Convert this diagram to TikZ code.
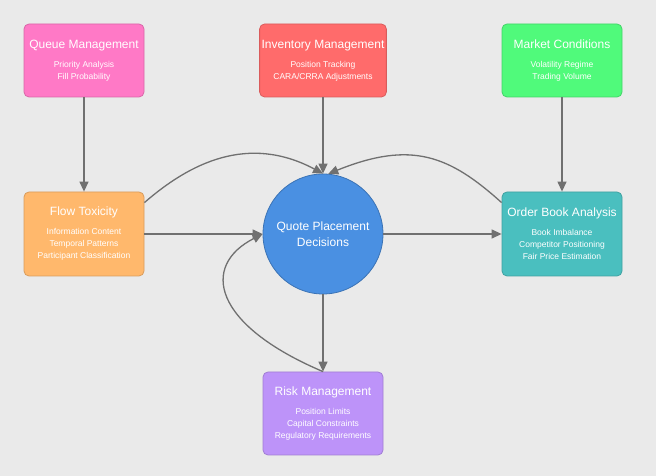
\documentclass[tikz,border=0pt]{standalone}
\usepackage{fontspec}
\setmainfont{Liberation Sans}
\usepackage{xcolor}
\usepackage{tikz}
\usetikzlibrary{arrows.meta}

\definecolor{bgcol}{HTML}{EAEAEA}
\definecolor{linkcol}{HTML}{707070}
\definecolor{queuecol}{HTML}{FF79C6}
\definecolor{invcol}{HTML}{FF6B6B}
\definecolor{marketcol}{HTML}{50FA7B}
\definecolor{flowcol}{HTML}{FFB86C}
\definecolor{quotecol}{HTML}{4A90E2}
\definecolor{bookcol}{HTML}{4ABFBF}
\definecolor{riskcol}{HTML}{BD93F9}

\newcommand{\boxtitle}[1]{{\fontsize{12}{14}\selectfont #1}\\[7pt]}

\begin{document}
\begin{tikzpicture}[x=1pt,y=1pt,
		box/.style={rectangle, rounded corners=5pt, minimum width=120pt, text=white, align=center,
			font=\fontsize{8.5}{12}\selectfont, line width=0.8pt, inner sep=2pt},
		link/.style={draw=linkcol, line width=1.3pt, -{Triangle[length=10pt,width=9pt]}}]
		\fill[bgcol] (0,0) rectangle (656,476);
		\useasboundingbox (0,0) rectangle (656,476);
		
		% top row
		\node[box, minimum height=73pt, fill=queuecol, draw=queuecol!85!black] (queue) at (84,415.5)
			{\boxtitle{Queue Management}Priority Analysis\\Fill Probability};
		\node[box, minimum height=73pt, fill=invcol, draw=invcol!85!black] (inv) at (323,415.5)
			{\boxtitle{Inventory Management}Position Tracking\\CARA/CRRA Adjustments};
		\node[box, minimum height=73pt, fill=marketcol, draw=marketcol!85!black] (market) at (562,415.5)
			{\boxtitle{Market Conditions}Volatility Regime\\Trading Volume};
		
		% middle row
		\node[box, minimum height=84pt, fill=flowcol, draw=flowcol!85!black] (flow) at (84,242)
			{\boxtitle{Flow Toxicity}Information Content\\Temporal Patterns\\Participant Classification};
		\node[circle, minimum size=120pt, fill=quotecol, draw=quotecol!80!black, line width=0.8pt,
			text=white, align=center, font=\fontsize{12}{16}\selectfont] (quote) at (323,242)
			{Quote Placement\\Decisions};
		\node[box, minimum height=84pt, fill=bookcol, draw=bookcol!85!black] (book) at (562,242)
			{\boxtitle{Order Book Analysis}Book Imbalance\\Competitor Positioning\\Fair Price Estimation};
		
		% bottom
		\node[box, minimum height=83pt, fill=riskcol, draw=riskcol!85!black] (risk) at (323,62.5)
			{\boxtitle{Risk Management}Position Limits\\Capital Constraints\\Regulatory Requirements};
		
		\draw[link] (queue) -- (flow);
		\draw[link] (inv) -- (quote);
		\draw[link] (market) -- (book);
		\draw[link] (flow) -- (quote);
		\draw[link] (quote) -- (book);
		\draw[link] (quote) -- (risk);
		
		\draw[link] ([yshift=-11pt]flow.north east) .. controls +(41:60) and +(152:85) .. (quote.north);
		\draw[link] ([yshift=-11pt]book.north west) .. controls +(138:70) and +(22:90) .. (quote.85);
		\draw[link] (risk.north) .. controls +(157:120) and +(207:70) .. (quote.west);
		
		\end{tikzpicture}
\end{document}
